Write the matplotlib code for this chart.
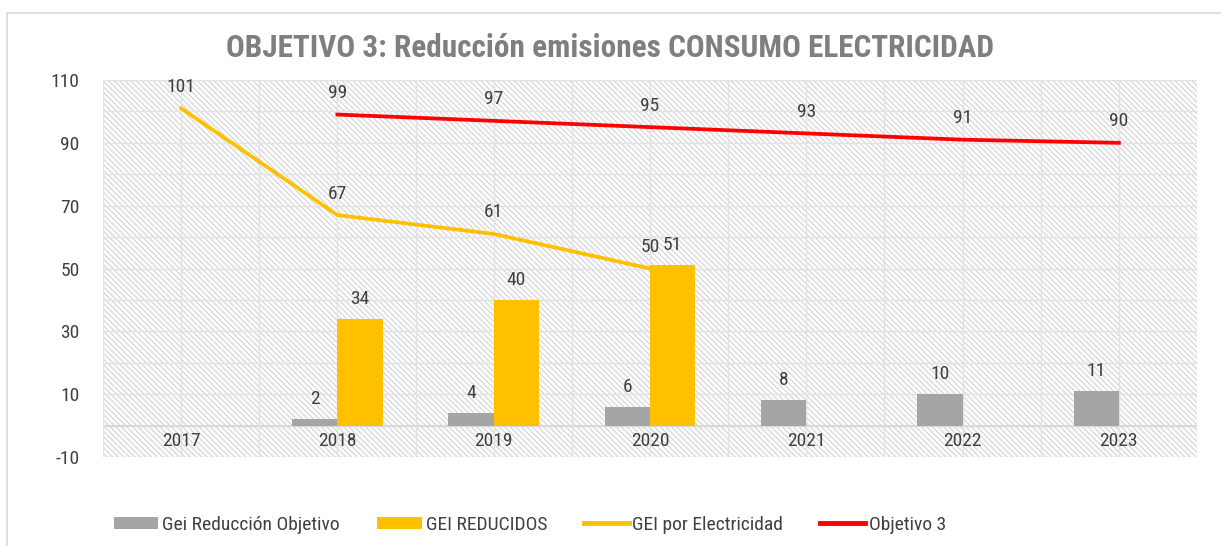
import matplotlib.pyplot as plt
from matplotlib.patches import Rectangle
import numpy as np

years = ["2017", "2018", "2019", "2020", "2021", "2022", "2023"]
gei_reduccion_objetivo = [None, 2, 4, 6, 8, 10, 11]
gei_reducidos = [None, 34, 40, 51, None, None, None]
gei_electricidad = [101, 67, 61, 50, None, None, None]
objetivo_3 = [None, 99, 97, 95, 93, 91, 90]

GREY = "#a5a5a5"
YELLOW = "#ffc000"
RED = "#ff0000"
TXT = "#404040"
FS = 14

plt.rcParams["font.family"] = ["Roboto Condensed", "DejaVu Sans"]
plt.rcParams["axes.unicode_minus"] = False
plt.rcParams["hatch.color"] = "#cfcfcf"
plt.rcParams["hatch.linewidth"] = 0.7

fig = plt.figure(figsize=(12.21, 5.46), dpi=100)
ax = fig.add_axes([103 / 1221, 1 - 457 / 546, 1094 / 1221, 377 / 546])

# outer chart border
fig.patches.append(Rectangle((7 / 1221, -0.1), 1.2, 1 - 13 / 546 + 0.1, transform=fig.transFigure,
                             fill=False, edgecolor="#d9d9d9", linewidth=1.2))

x = np.arange(len(years))
w = 0.29

ax.set_xlim(-0.5, len(years) - 0.5)
ax.set_ylim(-10, 110)

# hatched background
ax.add_patch(Rectangle((0, 0), 1, 1, transform=ax.transAxes, facecolor="#fdfdfd",
                       hatch="\\" * 6, edgecolor="#cfcfcf", linewidth=0, zorder=0))

# grid
for yv in range(-10, 111, 10):
    ax.axhline(yv, color="#e2e2e2", linewidth=1, zorder=1)
ax.axhline(0, color="#d9d9d9", linewidth=1.5, zorder=1)
for xv in np.arange(-0.5, len(years), 0.5):
    ax.axvline(xv, color="#e2e2e2", linewidth=1, zorder=1)

gx = [xi for xi, v in zip(x, gei_reduccion_objetivo) if v is not None]
gv = [v for v in gei_reduccion_objetivo if v is not None]
ax.bar(np.array(gx) - w / 2, gv, width=w, color=GREY, zorder=3, label="Gei Reducción Objetivo")
for xi, v in zip(gx, gv):
    ax.text(xi - w / 2, v + 3.5, str(v), ha="center", va="bottom", fontsize=FS, color=TXT, zorder=5)

yx = [xi for xi, v in zip(x, gei_reducidos) if v is not None]
yv_ = [v for v in gei_reducidos if v is not None]
ax.bar(np.array(yx) + w / 2, yv_, width=w, color=YELLOW, zorder=3, label="GEI REDUCIDOS")
for xi, v in zip(yx, yv_):
    ax.text(xi + w / 2, v + 3.5, str(v), ha="center", va="bottom", fontsize=FS, color=TXT, zorder=5)

lx = [xi for xi, v in zip(x, gei_electricidad) if v is not None]
lv = [v for v in gei_electricidad if v is not None]
ax.plot(lx, lv, color=YELLOW, linewidth=2.7, zorder=4, label="GEI por Electricidad")
for xi, v in zip(lx, lv):
    ax.text(xi, v + 4, str(v), ha="center", va="bottom", fontsize=FS, color=TXT, zorder=5)

rx = [xi for xi, v in zip(x, objetivo_3) if v is not None]
rv = [v for v in objetivo_3 if v is not None]
ax.plot(rx, rv, color=RED, linewidth=2.7, zorder=4, label="Objetivo 3")
for xi, v in zip(rx, rv):
    ax.text(xi, v + 4, str(v), ha="center", va="bottom", fontsize=FS, color=TXT, zorder=5)

ax.set_yticks(range(-10, 111, 20))
ax.set_xticks(x)
ax.set_xticklabels([])
for xi, yr in zip(x, years):
    ax.text(xi, -5, yr, ha="center", va="center", fontsize=FS, color=TXT, zorder=5)
ax.tick_params(axis="y", length=0, labelsize=FS, labelcolor=TXT, pad=17)
ax.tick_params(axis="x", length=0)
for s in ax.spines.values():
    s.set_visible(False)

fig.text(0.5, 1 - 48 / 546, "OBJETIVO 3: Reducción emisiones CONSUMO ELECTRICIDAD",
         ha="center", va="center", fontsize=22.5, fontweight="bold", color="#7f7f7f")

handles, labels = ax.get_legend_handles_labels()
order = [2, 3, 0, 1]
leg = fig.legend([handles[i] for i in order], [labels[i] for i in order],
                 loc="center", bbox_to_anchor=(0.434, 1 - 525 / 546), ncol=4, frameon=False,
                 fontsize=FS, handlelength=2.3, handleheight=0.6, columnspacing=1.9, handletextpad=0.2)
for t in leg.get_texts():
    t.set_color(TXT)
for h in leg.legend_handles[2:]:
    h.set_linewidth(3.5)

fig.savefig("out.png", dpi=100)
